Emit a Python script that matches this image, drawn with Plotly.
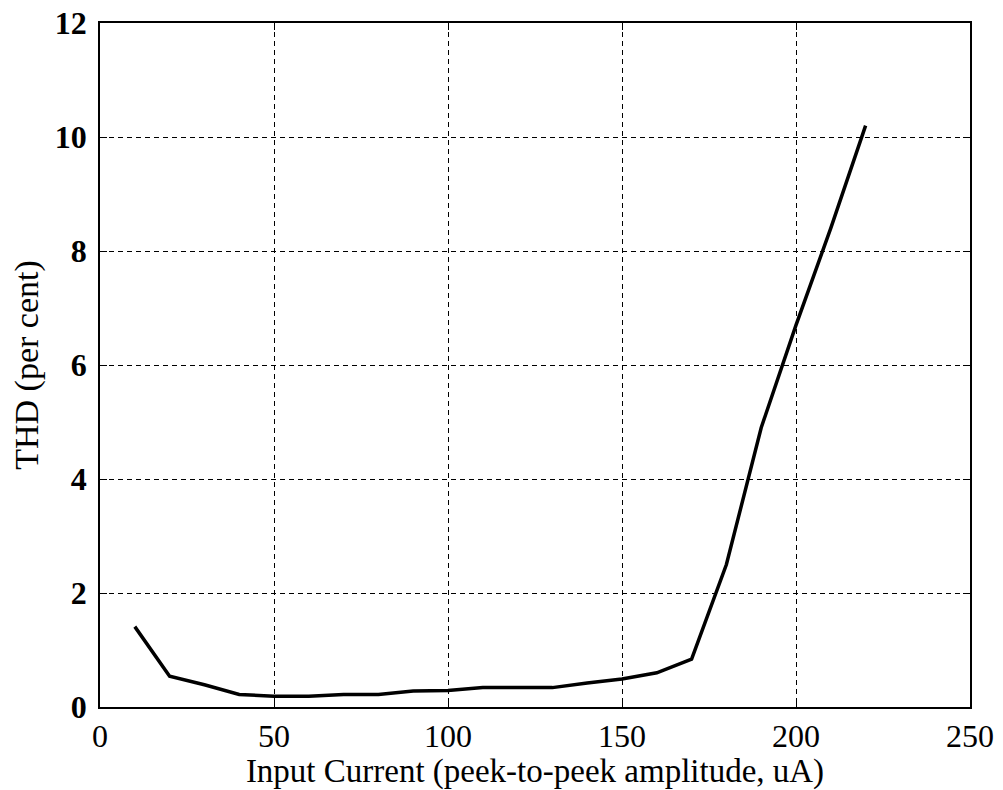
import plotly.graph_objects as go

current_ua = [10, 20, 30, 40, 50, 60, 70, 80, 90, 100, 110, 120, 130, 140, 150, 160, 170, 180, 190, 200, 210, 220]
thd_percent = [1.41, 0.54, 0.39, 0.22, 0.19, 0.19, 0.22, 0.22, 0.28, 0.29, 0.34, 0.34, 0.34, 0.42, 0.49, 0.60, 0.84, 2.5, 4.9, 6.7, 8.4, 10.2]

x_ticks = [0, 50, 100, 150, 200, 250]
y_ticks = [0, 2, 4, 6, 8, 10, 12]

fig = go.Figure()
fig.add_trace(go.Scatter(x=current_ua, y=thd_percent, mode="lines",
                         line=dict(color="black", width=3.5), showlegend=False))

serif = "Liberation Serif, Times New Roman, serif"
fig.update_layout(
    width=995, height=782,
    margin=dict(l=92, r=33, t=15, b=83),
    plot_bgcolor="white", paper_bgcolor="white",
    font=dict(family=serif, color="black"),
)
fig.update_xaxes(
    range=[0, 250], tickvals=x_ticks, ticks="inside", ticklen=7, tickcolor="black",
    showline=True, linecolor="black", linewidth=1.5, mirror="ticks",
    showgrid=True, gridcolor="black", griddash="5px,4px", gridwidth=1,
    zeroline=False, tickfont=dict(size=32, family=serif), ticklabeloverflow="allow",
    automargin=False,
    title=dict(text="Input Current (peek-to-peek amplitude, uA)", font=dict(size=33, family=serif), standoff=2),
)
fig.update_yaxes(
    range=[0, 12], tickvals=y_ticks, ticks="inside", ticklen=7, tickcolor="black",
    showline=True, linecolor="black", linewidth=1.5, mirror="ticks",
    showgrid=True, gridcolor="black", griddash="5px,4px", gridwidth=1,
    zeroline=False, tickfont=dict(size=32, family=serif, weight="bold"),
    ticklabeloverflow="allow", ticklabelstandoff=5, automargin=False,
    title=dict(text="THD (per cent)", font=dict(size=34, family=serif), standoff=8),
)
fig.write_html("out.html")
